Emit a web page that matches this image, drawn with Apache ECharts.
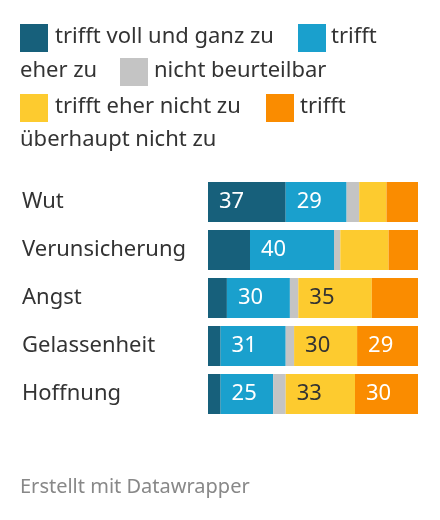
<!DOCTYPE html>
<html>
<head>
<meta charset="utf-8">
<script src="https://cdn.jsdelivr.net/npm/echarts@6/dist/echarts.min.js"></script>
<style>
html,body{margin:0;padding:0;background:#fff;}
#chart{width:440px;height:520px;}
</style>
</head>
<body>
<div id="chart"></div>
<script>
const categories = ['Wut', 'Verunsicherung', 'Angst', 'Gelassenheit', 'Hoffnung'];
const seriesNames = ['trifft voll und ganz zu', 'trifft eher zu', 'nicht beurteilbar', 'trifft eher nicht zu', 'trifft überhaupt nicht zu'];
const vollUndGanz   = [37, 20, 9, 6, 6];
const eherZu        = [29, 40, 30, 31, 25];
const nichtBeurteil = [6, 3, 4, 4, 6];
const eherNicht     = [13, 23, 35, 30, 33];
const ueberhauptNicht = [15, 14, 22, 29, 30];

const colors = ['#17607b', '#1aa0cd', '#c4c4c4', '#fdcb2f', '#fa8c00'];
const labelColors = ['#fff', '#fff', '#333', '#333', '#fff'];
const values = [vollUndGanz, eherZu, nichtBeurteil, eherNicht, ueberhauptNicht];
const FONT = '"Noto Sans"';

const chart = echarts.init(document.getElementById('chart'));

const series = values.map((arr, i) => ({
  name: seriesNames[i],
  type: 'bar',
  stack: 'total',
  data: arr,
  barWidth: 40,
  itemStyle: { color: colors[i] },
  label: {
    show: true,
    position: 'insideLeft',
    distance: 11,
    color: labelColors[i],
    fontFamily: FONT,
    fontSize: 22,
    formatter: p => (p.value >= 25 ? String(p.value) : '')
  },
  emphasis: { disabled: true },
  animation: false
}));

function legendText(x, y, t) {
  return { type: 'text', left: x, top: y, style: { text: t, fill: '#333', font: '22px ' + FONT } };
}
function legendRect(x, y, c) {
  return { type: 'rect', left: x, top: y, shape: { width: 28, height: 28 }, style: { fill: c } };
}

chart.setOption({
  animation: false,
  grid: { left: 208, right: 22, top: 178, bottom: 102 },
  xAxis: { type: 'value', min: 0, max: 100, show: false },
  yAxis: {
    type: 'category',
    data: categories,
    inverse: true,
    axisLine: { show: false },
    axisTick: { show: false },
    axisLabel: { align: 'left', margin: 186, color: '#333', fontFamily: FONT, fontSize: 22, padding: [2, 0, 0, 0] }
  },
  series: series,
  graphic: [
    legendRect(20, 24, colors[0]), legendText(55, 26, 'trifft voll und ganz zu'),
    legendRect(298, 24, colors[1]), legendText(331, 26, 'trifft'),
    legendText(20, 60, 'eher zu'),
    legendRect(120, 58, colors[2]), legendText(154, 60, 'nicht beurteilbar'),
    legendRect(20, 94, colors[3]), legendText(55, 96, 'trifft eher nicht zu'),
    legendRect(266, 94, colors[4]), legendText(300, 96, 'trifft'),
    legendText(20, 129, 'überhaupt nicht zu'),
    { type: 'text', left: 20, top: 477, style: { text: 'Erstellt mit Datawrapper', fill: '#888', font: '20px ' + FONT } }
  ]
});
</script>
</body>
</html>
